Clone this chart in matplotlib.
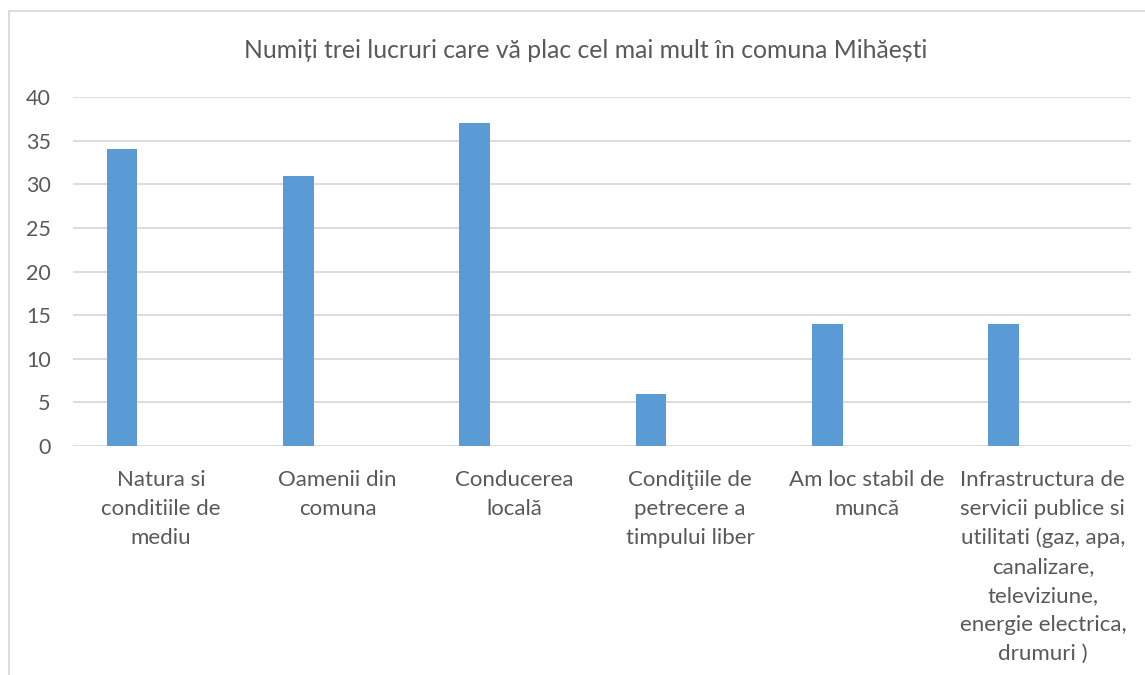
import numpy as np
import matplotlib
matplotlib.use('Agg')
import matplotlib.pyplot as plt
from matplotlib.patches import Rectangle

plt.rcParams['font.family'] = ['Lato', 'DejaVu Sans']

title = 'Numiți trei lucruri care vă plac cel mai mult în comuna Mihăești'
categories = [
    'Natura si\nconditiile de\nmediu',
    'Oamenii din\ncomuna',
    'Conducerea\nlocală',
    'Condiţiile de\npetrecere a\ntimpului liber',
    'Am loc stabil de\nmuncă',
    'Infrastructura de\nservicii publice si\nutilitati (gaz, apa,\ncanalizare,\nteleviziune,\nenergie electrica,\ndrumuri )',
]
values = [34, 31, 37, 6, 14, 14]
yticks = [0, 5, 10, 15, 20, 25, 30, 35, 40]

W, H = 1145, 675
fig = plt.figure(figsize=(W / 100, H / 100), dpi=100)
ax = fig.add_axes([73 / W, 1 - 446 / H, (1131 - 73) / W, (446 - 97) / H])

text_col = '#595959'
grid_col = '#d9d9d9'

x = np.arange(len(values))
ax.bar(x - 0.223, values, width=0.174, color='#5b9bd5', zorder=3)

ax.set_xlim(-0.5, len(values) - 0.5)
ax.set_ylim(0, 40)
ax.set_yticks(yticks)
ax.set_yticklabels([str(v) for v in yticks], fontsize=15.5, color=text_col)
ax.set_xticks(x)
ax.set_xticklabels(categories, fontsize=16, color=text_col, linespacing=1.56,
                   va='top')
ax.tick_params(axis='y', length=0, pad=16)
ax.tick_params(axis='x', length=0, pad=17)
ax.grid(axis='y', color=grid_col, linewidth=1.3, zorder=0)
for s in ax.spines.values():
    s.set_visible(False)

fig.text(586 / W, 1 - 50 / H, title, ha='center', va='center',
         fontsize=17.8, color=text_col)

# chart frame (cut at right and bottom)
frame = Rectangle((9 / W, -0.1), 1.2, 1 - 11 / H + 0.1, transform=fig.transFigure,
                  fill=False, edgecolor='#d9d9d9', linewidth=1.3, clip_on=False)
fig.add_artist(frame)

fig.savefig('out.png', dpi=100)
